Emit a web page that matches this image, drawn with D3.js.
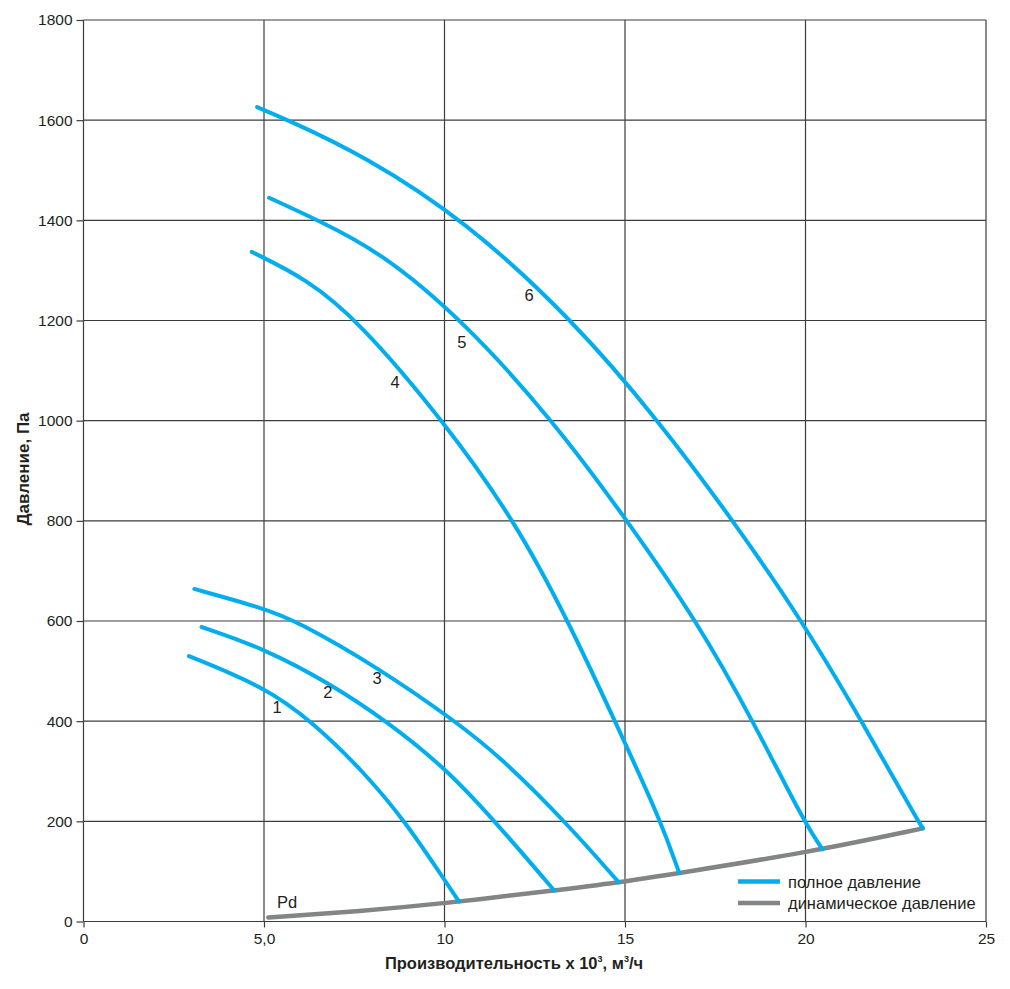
<!DOCTYPE html>
<html>
<head>
<meta charset="utf-8">
<script src="https://cdn.jsdelivr.net/npm/d3@7"></script>
<style>
  body { margin: 0; background: #fff; }
  text { font-family: "Liberation Sans", Arial, sans-serif; }
</style>
</head>
<body>
<div id="main"></div>
<script>
// axis ticks
var xTicks = [0, 5, 10, 15, 20, 25];
var xTickLabels = ["0", "5,0", "10", "15", "20", "25"];
var yTicks = [0, 200, 400, 600, 800, 1000, 1200, 1400, 1600, 1800];

// полное давление, curves 1..6 (x in 10^3 m3/h, y in Pa)
var curve1X = [2.92, 5.0, 6.32, 7.75, 8.91, 10.0, 10.4];
var curve1Y = [530, 469, 400, 300, 200, 83, 40];
var curve2X = [3.27, 5.01, 6.83, 8.4, 10.0, 11.4, 13.04];
var curve2Y = [588, 545, 475, 400, 308, 200, 62];
var curve3X = [3.07, 5.01, 5.9, 8.12, 10.3, 11.54, 13.34, 14.83];
var curve3Y = [664, 625, 600, 509, 400, 329, 200, 78];
var curve4X = [4.66, 6.18, 7.61, 9.97, 11.95, 13.43, 14.72, 16.0, 16.5];
var curve4Y = [1337, 1283, 1200, 1000, 800, 600, 400, 200, 97];
var curve5X = [5.14, 6.5, 8.2, 10.52, 13.01, 15.07, 16.99, 18.55, 19.95, 20.47];
var curve5Y = [1445, 1400, 1338, 1200, 1000, 800, 600, 400, 200, 144];
var curve6X = [4.81, 5.67, 7.75, 10.57, 13.57, 15.93, 18.0, 19.91, 21.56, 23.12, 23.25];
var curve6Y = [1626, 1600, 1530, 1400, 1200, 1000, 800, 600, 400, 200, 186];

// динамическое давление
var pdX = [5.12, 7.57, 10.0, 13.04, 14.83, 16.5, 20.0, 23.25];
var pdY = [8, 20, 36, 62, 78, 97, 137, 186];

// curve number labels
var curveLabels = ["1", "2", "3", "4", "5", "6", "Pd"];
var labelX = [5.36, 6.77, 8.13, 8.63, 10.48, 12.34, 5.64];
var labelY = [428, 458, 486, 1077, 1157, 1250, 39];

var legendLabels = ["полное давление", "динамическое давление"];

var width = 1010, height = 989;
var margin = {top: 20, right: 24, bottom: 67.5, left: 83.5};
var blue = "#00aeef", grey = "#838486", gridColor = "#3c3c3c";

var svg = d3.select("#main").append("svg")
  .attr("width", width).attr("height", height);

var x = d3.scaleLinear().domain([0, 25]).range([margin.left, width - margin.right]);
var y = d3.scaleLinear().domain([0, 1800]).range([height - margin.bottom, margin.top]);

// grid
var grid = svg.append("g");
grid.selectAll(".vgrid").data(xTicks).enter().append("line")
  .attr("x1", function (d) { return x(d); })
  .attr("x2", function (d) { return x(d); })
  .attr("y1", y(0)).attr("y2", y(1800))
  .attr("stroke", gridColor).attr("stroke-width", 1.2);
grid.selectAll(".hgrid").data(yTicks).enter().append("line")
  .attr("x1", x(0)).attr("x2", x(25))
  .attr("y1", function (d) { return y(d); })
  .attr("y2", function (d) { return y(d); })
  .attr("stroke", gridColor).attr("stroke-width", 1.2);

// axes
var xAxis = svg.append("g")
  .attr("transform", "translate(0," + y(0) + ")")
  .call(d3.axisBottom(x).tickValues(xTicks).tickSize(6).tickPadding(5)
    .tickFormat(function (d, i) { return xTickLabels[i]; }));
var yAxis = svg.append("g")
  .attr("transform", "translate(" + x(0) + ",0)")
  .call(d3.axisLeft(y).tickValues(yTicks).tickSize(7).tickPadding(4)
    .tickFormat(function (d) { return d; }));
[xAxis, yAxis].forEach(function (a) {
  a.select(".domain").remove();
  a.selectAll(".tick line").attr("stroke", gridColor).attr("stroke-width", 1.2);
  a.selectAll(".tick text")
    .style("font-family", "'Liberation Sans', Arial, sans-serif")
    .style("font-size", "15.5px").attr("fill", "#231f20");
});

// curves (smoothed B-spline through the read points)
var line = d3.line()
  .x(function (d) { return x(d[0]); })
  .y(function (d) { return y(d[1]); })
  .curve(d3.curveBasis);

function pairs(xs, ys) {
  return xs.map(function (v, i) { return [v, ys[i]]; });
}

svg.append("path")
  .datum(pairs(pdX, pdY))
  .attr("d", line)
  .attr("fill", "none").attr("stroke", grey)
  .attr("stroke-width", 4.5).attr("stroke-linecap", "round");

var curves = [
  pairs(curve1X, curve1Y), pairs(curve2X, curve2Y), pairs(curve3X, curve3Y),
  pairs(curve4X, curve4Y), pairs(curve5X, curve5Y), pairs(curve6X, curve6Y)
];
svg.selectAll(".curve").data(curves).enter().append("path")
  .attr("class", "curve")
  .attr("d", line)
  .attr("fill", "none").attr("stroke", blue)
  .attr("stroke-width", 4).attr("stroke-linecap", "round");

// labels on curves
svg.selectAll(".clabel").data(curveLabels).enter().append("text")
  .attr("x", function (d, i) { return x(labelX[i]); })
  .attr("y", function (d, i) { return y(labelY[i]); })
  .attr("text-anchor", "middle")
  .attr("dominant-baseline", "central")
  .style("font-size", "16.5px")
  .attr("fill", "#231f20")
  .text(function (d) { return d; });

// legend
var legend = svg.append("g");
var legendColors = [blue, grey];
legendLabels.forEach(function (lab, i) {
  var ly = 881.5 + i * 21.5;
  legend.append("line")
    .attr("x1", 738).attr("x2", 780)
    .attr("y1", ly).attr("y2", ly)
    .attr("stroke", legendColors[i]).attr("stroke-width", 4.5);
  legend.append("text")
    .attr("x", 788).attr("y", ly)
    .attr("dominant-baseline", "central")
    .style("font-size", "16.5px")
    .attr("fill", "#231f20")
    .text(lab);
});

// axis titles
var xTitle = svg.append("text")
  .attr("x", 514).attr("y", 969)
  .attr("text-anchor", "middle")
  .style("font-size", "16.5px").style("font-weight", "bold")
  .attr("fill", "#231f20");
xTitle.append("tspan").text("Производительность х 10");
xTitle.append("tspan").attr("dy", -7).style("font-size", "9px").text("3");
xTitle.append("tspan").attr("dy", 7).text(", м");
xTitle.append("tspan").attr("dy", -7).style("font-size", "9px").text("3");
xTitle.append("tspan").attr("dy", 7).text("/ч");

svg.append("text")
  .attr("transform", "translate(29,469) rotate(-90)")
  .attr("text-anchor", "middle")
  .style("font-size", "17px").style("font-weight", "bold")
  .attr("fill", "#231f20")
  .text("Давление, Па");
</script>
</body>
</html>
